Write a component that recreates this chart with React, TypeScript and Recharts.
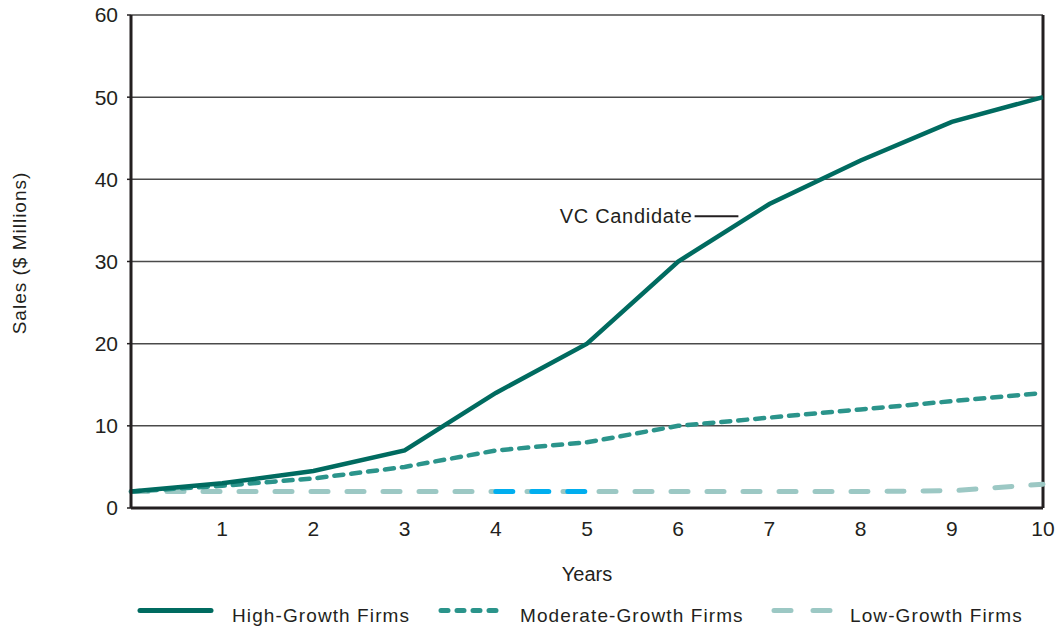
import React from 'react';
import { LineChart, Line, XAxis, YAxis, CartesianGrid, ReferenceLine, Legend, Label } from 'recharts';

const years = [0, 1, 2, 3, 4, 5, 6, 7, 8, 9, 10];
const highGrowth = [2, 3, 4.5, 7, 14, 20, 30, 37, 42.3, 47, 50];
const moderateGrowth = [2, 2.7, 3.6, 5, 7, 8, 10, 11, 12, 13, 14];
const lowGrowth = [2, 2, 2, 2, 2, 2, 2, 2, 2, 2.1, 2.9];
const highlightSegment = [null, null, null, null, 2, 2, null, null, null, null, null];
const xTicks = [1, 2, 3, 4, 5, 6, 7, 8, 9, 10];
const yTicks = [0, 10, 20, 30, 40, 50, 60];
const seriesNames = ['High-Growth Firms', 'Moderate-Growth Firms', 'Low-Growth Firms'];

const data = years.map((y, i) => ({
  year: y,
  high: highGrowth[i],
  moderate: moderateGrowth[i],
  low: lowGrowth[i],
  highlight: highlightSegment[i],
}));

const FONT = '"Liberation Sans", Arial, Helvetica, sans-serif';
const TEXT = '#231f20';
const HIGH = '#006b60';
const MOD = '#2b948b';
const LOW = '#9cc8c4';
const BLUE = '#00aeef';

const legendTextStyle = { fontFamily: FONT, fontSize: 19, letterSpacing: 1.1, fill: TEXT } as const;

const CustomLegend = () => (
  <svg width={1055} height={30} style={{ display: 'block' }}>
    <line x1={140} y1={10.5} x2={211} y2={10.5} stroke={HIGH} strokeWidth={5} strokeLinecap="round" />
    <text x={232} y={22} style={legendTextStyle}>{seriesNames[0]}</text>
    <line x1={441} y1={10.5} x2={497} y2={10.5} stroke={MOD} strokeWidth={5} strokeLinecap="round" strokeDasharray="7 9" />
    <text x={520} y={22} style={legendTextStyle}>{seriesNames[1]}</text>
    <line x1={774} y1={10.5} x2={832} y2={10.5} stroke={LOW} strokeWidth={5} strokeLinecap="round" strokeDasharray="17 22" />
    <text x={850} y={22} style={legendTextStyle}>{seriesNames[2]}</text>
  </svg>
);

const YLabel = () => (
  <text
    x={0}
    y={0}
    transform="translate(26 253) rotate(-90)"
    textAnchor="middle"
    style={{ fontFamily: FONT, fontSize: 19, letterSpacing: 1, fill: TEXT }}
  >
    Sales ($ Millions)
  </text>
);

export default function App() {
  return (
    <div style={{ position: 'absolute', left: 0, top: 0 }}>
      <LineChart
        width={1055}
        height={629}
        data={data}
        margin={{ top: 15, right: 12, bottom: 11, left: 0 }}
      >
        <CartesianGrid horizontal vertical={false} stroke="#4a4a4a" strokeWidth={1.5} />
        <XAxis
          dataKey="year"
          type="number"
          domain={[0, 10]}
          ticks={xTicks}
          height={80}
          tickLine={false}
          tickSize={6}
          tickMargin={7}
          axisLine={{ stroke: TEXT, strokeWidth: 3 }}
          tick={{ fill: TEXT, fontSize: 21, fontFamily: FONT }}
        >
          <Label value="Years" position="insideBottom" offset={7} style={{ fontFamily: FONT, fontSize: 20, fill: TEXT }} />
        </XAxis>
        <YAxis
          type="number"
          domain={[0, 60]}
          ticks={yTicks}
          width={131}
          tickSize={4}
          tickMargin={9}
          tickLine={{ stroke: TEXT, strokeWidth: 1.5 }}
          axisLine={{ stroke: TEXT, strokeWidth: 3 }}
          tick={{ fill: TEXT, fontSize: 21, fontFamily: FONT }}
        >
          <Label content={<YLabel />} />
        </YAxis>
        <ReferenceLine x={10} stroke={TEXT} strokeWidth={3} />
        <ReferenceLine
          segment={[{ x: 6.18, y: 35.5 }, { x: 6.66, y: 35.5 }]}
          stroke={TEXT}
          strokeWidth={2}
        >
          <Label value="VC Candidate" position="left" offset={2} style={{ fontFamily: FONT, fontSize: 20, letterSpacing: 0.7, fill: TEXT }} />
        </ReferenceLine>
        <Line dataKey="low" name={seriesNames[2]} stroke={LOW} strokeWidth={5} strokeLinecap="round" strokeDasharray="17 19" dot={false} isAnimationActive={false} />
        <Line dataKey="highlight" stroke={BLUE} strokeWidth={5} strokeLinecap="round" strokeDasharray="17 19" dot={false} isAnimationActive={false} connectNulls={false} legendType="none" />
        <Line dataKey="moderate" name={seriesNames[1]} stroke={MOD} strokeWidth={4.5} strokeLinecap="round" strokeDasharray="9 8" dot={false} isAnimationActive={false} />
        <Line dataKey="high" name={seriesNames[0]} stroke={HIGH} strokeWidth={4.5} dot={false} isAnimationActive={false} />
        <Legend
          verticalAlign="bottom"
          content={<CustomLegend />}
          wrapperStyle={{ position: 'absolute', left: 0, top: 600, width: 1055, height: 30 }}
        />
      </LineChart>
    </div>
  );
}
